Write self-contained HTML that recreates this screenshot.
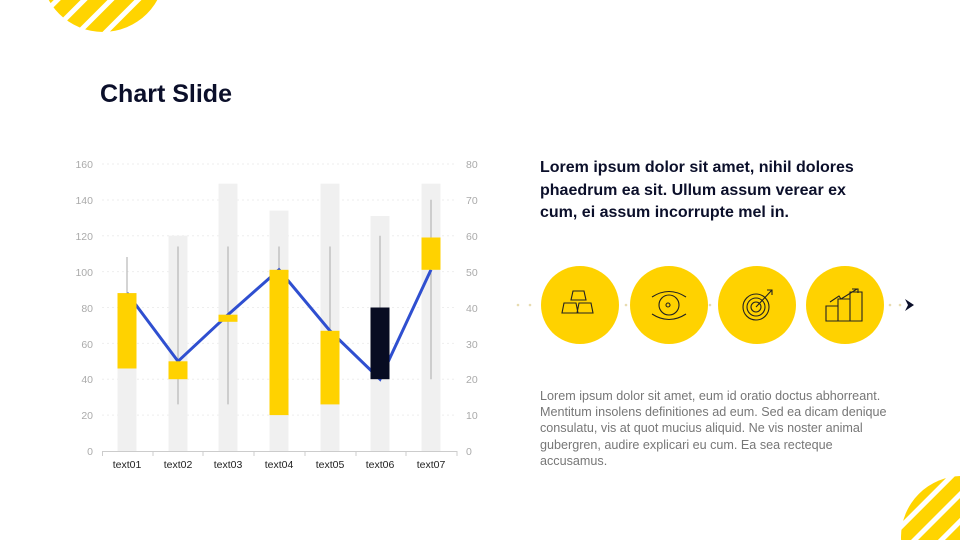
<!DOCTYPE html>
<html><head><meta charset="utf-8"><style>
body{margin:0;width:960px;height:540px;overflow:hidden;background:#fff;font-family:"Liberation Sans",sans-serif;position:relative}
.t{position:absolute;color:#0b0f2a}
</style></head><body>
<svg width="960" height="540" style="position:absolute;left:0;top:0" font-family="Liberation Sans, sans-serif">
<defs>
<pattern id="st" patternUnits="userSpaceOnUse" width="19" height="19" patternTransform="rotate(-45)">
<rect width="19" height="19" fill="#ffd400"/><rect y="0" width="19" height="5" fill="#fff"/>
</pattern>
<clipPath id="c1"><circle cx="103" cy="-30" r="62"/></clipPath>
<clipPath id="c2"><circle cx="962" cy="537" r="61"/></clipPath>
</defs>
<rect x="30" y="-100" width="150" height="140" fill="url(#st)" clip-path="url(#c1)"/>
<rect x="890" y="470" width="80" height="80" fill="url(#st)" clip-path="url(#c2)"/>

<text x="100" y="102" font-size="25" font-weight="bold" fill="#0b0f2a">Chart Slide</text>

<g stroke="#eee" stroke-dasharray="2,3" stroke-width="1">
<line x1="102" x2="457" y1="164" y2="164"/><line x1="102" x2="457" y1="200" y2="200"/>
<line x1="102" x2="457" y1="235.7" y2="235.7"/><line x1="102" x2="457" y1="271.6" y2="271.6"/>
<line x1="102" x2="457" y1="307.5" y2="307.5"/><line x1="102" x2="457" y1="343.4" y2="343.4"/>
<line x1="102" x2="457" y1="379.2" y2="379.2"/><line x1="102" x2="457" y1="415.1" y2="415.1"/>
</g>
<g font-size="10.5" fill="#aaa" text-anchor="end">
<text x="93" y="168">160</text><text x="93" y="204">140</text><text x="93" y="240">120</text><text x="93" y="276">100</text>
<text x="93" y="312">80</text><text x="93" y="348">60</text><text x="93" y="383">40</text><text x="93" y="419">20</text><text x="93" y="455">0</text>
</g>
<g font-size="10.5" fill="#aaa">
<text x="466" y="168">80</text><text x="466" y="204">70</text><text x="466" y="240">60</text><text x="466" y="276">50</text>
<text x="466" y="312">40</text><text x="466" y="348">30</text><text x="466" y="383">20</text><text x="466" y="419">10</text><text x="466" y="455">0</text>
</g>
<g fill="#f0f0f0">
<rect x="117.5" y="293" width="19" height="158"/>
<rect x="168.5" y="235.7" width="19" height="215.3"/>
<rect x="218.5" y="183.7" width="19" height="267.3"/>
<rect x="269.5" y="210.6" width="19" height="240.4"/>
<rect x="320.5" y="183.7" width="19" height="267.3"/>
<rect x="370.5" y="216" width="19" height="235"/>
<rect x="421.5" y="183.7" width="19" height="267.3"/>
</g>
<g stroke="#aaa" stroke-width="1">
<line x1="127" x2="127" y1="257" y2="293"/>
<line x1="178" x2="178" y1="246.5" y2="404.4"/>
<line x1="228" x2="228" y1="246.5" y2="404.4"/>
<line x1="279" x2="279" y1="246.5" y2="270"/>
<line x1="330" x2="330" y1="246.5" y2="331"/>
<line x1="380" x2="380" y1="235.7" y2="307.5"/>
<line x1="431" x2="431" y1="199.8" y2="379.2"/>
</g>
<polyline points="127,293 178,361.3 228,314.7 279,269.8 330,330.8 380,379.2 431,269.8" fill="none" stroke="#2f4fd0" stroke-width="3"/>
<g fill="#ffd200">
<rect x="117.5" y="293.1" width="19" height="75.4"/>
<rect x="168.5" y="361.3" width="19" height="17.9"/>
<rect x="218.5" y="314.7" width="19" height="7.1"/>
<rect x="269.5" y="269.8" width="19" height="145.3"/>
<rect x="320.5" y="330.8" width="19" height="73.6"/>
<rect x="421.5" y="237.5" width="19" height="32.3"/>
</g>
<rect x="370.5" y="307.5" width="19" height="71.7" fill="#080c22"/>
<g stroke="#ccc"><line x1="102" x2="457" y1="451.5" y2="451.5"/>
<line x1="102.5" x2="102.5" y1="451" y2="456"/><line x1="153" x2="153" y1="451" y2="456"/><line x1="203" x2="203" y1="451" y2="456"/><line x1="254" x2="254" y1="451" y2="456"/><line x1="305" x2="305" y1="451" y2="456"/><line x1="356" x2="356" y1="451" y2="456"/><line x1="406" x2="406" y1="451" y2="456"/><line x1="457" x2="457" y1="451" y2="456"/></g>
<g font-size="10.5" fill="#222" text-anchor="middle">
<text x="127" y="468">text01</text><text x="178" y="468">text02</text><text x="228" y="468">text03</text><text x="279" y="468">text04</text>
<text x="330" y="468">text05</text><text x="380" y="468">text06</text><text x="431" y="468">text07</text>
</g>

<g fill="#e8dcb0"><circle cx="518" cy="305" r="1.3"/><circle cx="530" cy="305" r="1.3"/><circle cx="626" cy="305" r="1.3"/><circle cx="710" cy="305" r="1.3"/><circle cx="890" cy="305" r="1.3"/><circle cx="900" cy="305" r="1.3"/></g>
<g fill="#ffd200"><circle cx="580" cy="305" r="39"/><circle cx="669" cy="305" r="39"/><circle cx="757" cy="305" r="39"/><circle cx="845" cy="305" r="39"/></g>
<path d="M905,299 L914,305 L905,311 L908,305Z" fill="#0b0f2a"/>
<g fill="none" stroke="#222" stroke-width="1.1">
<path d="M573,291 h11 l2,9 h-15z M562,313 l2,-10 h12 l2,10z M577,313 l2,-10 h12 l2,10z"/>
<path d="M652,297 q17,-11 34,0 M652,314 q17,11 34,0"/><circle cx="669" cy="305" r="10"/><circle cx="668" cy="305" r="2"/>
<circle cx="756" cy="307" r="13"/><circle cx="756" cy="307" r="9"/><circle cx="756" cy="307" r="5"/><path d="M756,307 L772,290 M767,290 h5 v5"/>
<path d="M826,306 h12 v15 h-12z M838,299 h12 v22 h-12z M850,292 h12 v29 h-12z M830,302 l9,-6 l2,3 l16,-10 M852,289 h6 v4"/>
</g>
</svg>
<div class="t" style="left:540px;top:157px;width:330px;font-size:16px;font-weight:bold;line-height:22.5px">Lorem ipsum dolor sit amet, nihil dolores phaedrum ea sit. Ullum assum verear ex cum, ei assum incorrupte mel in.</div>
<div class="t" style="left:540px;top:388px;width:348px;font-size:12.6px;line-height:16.2px;color:#777">Lorem ipsum dolor sit amet, eum id oratio doctus abhorreant. Mentitum insolens definitiones ad eum. Sed ea dicam denique consulatu, vis at quot mucius aliquid. Ne vis noster animal gubergren, audire explicari eu cum. Ea sea recteque accusamus.</div>
</body></html>
